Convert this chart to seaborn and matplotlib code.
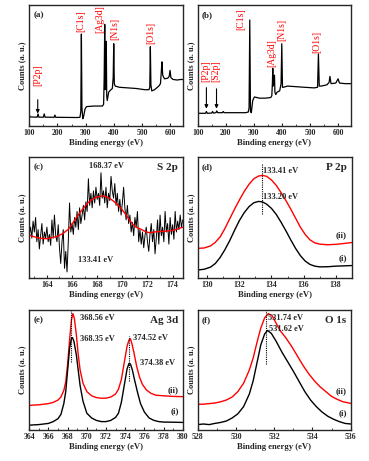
import numpy as np
import pandas as pd
import matplotlib
matplotlib.use("Agg")
import matplotlib.pyplot as plt
from matplotlib.ticker import MultipleLocator
import seaborn as sns

# ---------------- data (intensity in % of panel height) ----------------
# (a) survey spectrum, sample (i)
surv_a_x = [100, 103, 128, 131, 134, 150, 153, 156, 188, 191, 194, 270, 280, 283, 285, 287, 290,
            293, 298, 303, 330, 360, 364, 366, 368, 369.5, 372, 373.5, 375, 377, 382, 390, 395,
            398, 400, 402, 405, 420, 450, 480, 510, 525, 528, 530, 532, 535, 545, 560, 566, 569,
            571, 574, 580, 592, 597, 600, 603, 610, 625, 640, 655]
surv_a_y = [9, 7.5, 7.3, 10, 7.3, 7.3, 10, 7.3, 7.2, 9, 7.2, 7, 7.2, 12, 76, 15, 6,
            8, 14, 16, 16.5, 16.5, 18, 40, 84, 30, 45, 70, 25, 21, 28, 30, 31,
            40, 68, 35, 33, 32, 31.5, 31, 30, 30, 32, 65.5, 34, 29, 30, 33, 35, 45,
            53, 42, 39, 39.5, 41, 46, 40, 38.5, 38, 38.5, 38]
# (b) survey spectrum, sample (ii)
surv_b_x = [100, 128, 131, 134, 150, 153, 156, 165, 168, 171, 188, 191, 194, 270, 280, 283, 285.5,
            288, 291, 296, 302, 320, 340, 360, 364, 366, 367.5, 369, 371, 373.5, 375, 378, 383,
            392, 397, 399.5, 402, 405, 420, 450, 480, 515, 527, 530, 533, 540, 560, 568, 571,
            575, 592, 600, 605, 625, 645]
surv_b_y = [10.5, 10.5, 12, 10.5, 10.7, 12, 10.7, 11, 12.5, 11, 11, 12, 11, 11, 11.5, 15, 87.6,
            12, 11, 21, 24, 23, 23, 23.5, 25, 35, 47.7, 33, 36, 42, 28, 26, 28,
            29, 35, 68, 32, 32, 33, 32.5, 32, 31.5, 32, 59.5, 33, 33, 34, 36, 41,
            35, 35.5, 39, 35.5, 35, 35]

# (c) S 2p raw (0.1 eV steps from 162.6 eV) and fit
s2p_start, s2p_step = 162.6, 0.1
s2p_raw = [36, 42, 33, 47, 38, 50, 30, 40, 24, 35, 45, 28, 38, 33, 42, 30, 36, 27, 48, 33,
           52, 35, 30, 44, 25, 12, 30, 40, 8, 22, 5, 30, 62, 38, 45, 36, 50, 42, 55, 40,
           58, 45, 52, 60, 48, 63, 55, 82, 60, 70, 58, 72, 62, 75, 65, 70, 60, 87, 66, 72,
           62, 75, 58, 70, 64, 84, 72, 66, 78, 60, 70, 55, 65, 52, 62, 75, 58, 48, 60, 45,
           52, 38, 46, 35, 50, 42, 55, 30, 40, 28, 38, 25, 35, 42, 30, 22, 36, 45, 30, 40,
           20, 33, 48, 28, 52, 35, 42, 30, 55, 38, 45, 28, 50, 36, 44, 32, 55, 38, 47, 40,
           52, 42, 48]
s2p_fit_x = [162.6, 163.0, 163.5, 164.0, 164.5, 164.9, 165.3, 165.7, 166.0, 166.3, 166.7, 167.0,
             167.3, 167.6, 168.0, 168.4, 168.7, 169.0, 169.3, 169.5, 169.9, 170.2, 170.5, 170.8,
             171.1, 171.5, 171.9, 172.2, 172.5, 172.8, 173.3, 173.9, 174.3, 174.8]
s2p_fit_y = [35.5, 34, 32.8, 32.5, 33.5, 34.7, 37, 40.2, 44.5, 49.3, 55, 58.9,
             62.5, 65, 67, 67.8, 67.2, 65.8, 63.5, 61.7, 57.5, 53.5, 49, 44.6,
             42, 40.2, 38, 37.4, 38, 38.3, 38.6, 39.1, 40.2, 42]

# (d) P 2p
p2p_x = [129.4, 129.8, 130.2, 130.5, 130.8, 131.1, 131.4, 131.7, 132.0, 132.3, 132.6, 132.9, 133.2,
         133.45, 133.7, 134.0, 134.3, 134.6, 134.9, 135.2, 135.5, 135.8, 136.1, 136.4, 136.7,
         137.0, 137.5, 138.0, 138.5, 139.0]
p2p_ii = [24.5, 24.8, 26.5, 29.5, 34, 41, 49, 57, 64.5, 71.5, 77.5, 82, 84.3,
          84.8, 84, 81, 76.5, 70.5, 64, 57, 49.5, 42, 36, 31.5, 29,
          28, 27.5, 27.8, 28.5, 29.3]
p2p_i = [6.6, 7.2, 9, 12, 17, 23.5, 31, 39.5, 47.5, 54, 59, 62.2, 63.3,
         62.8, 61, 57.5, 52.5, 46, 39, 31.5, 24.5, 18.5, 14, 11.2, 9.8,
         9.2, 9.3, 9.8, 10, 10.3]

# (e) Ag 3d
ag_ii_x = [364.0, 364.5, 365.0, 365.5, 366.0, 366.5, 367.0, 367.3, 367.6, 367.8, 368.0, 368.2, 368.4,
           368.55, 368.7, 368.9, 369.1, 369.3, 369.6, 370.0, 370.5, 371.0, 371.5, 372.0, 372.5,
           373.0, 373.3, 373.6, 373.9, 374.2, 374.4, 374.55, 374.7, 374.9, 375.2, 375.5, 375.8,
           376.2, 376.7, 377.2, 378.0, 379.0, 380.0]
ag_ii_y = [20.5, 20.8, 21, 21.5, 22, 23, 25, 27.5, 33, 40, 55, 75, 92,
           97, 93, 80, 63, 50, 39, 32, 28.5, 27, 26.5, 26.5, 27.5,
           30, 34, 42, 56, 70, 75, 76, 72, 65, 53, 44, 38,
           33.5, 30.5, 29, 28.5, 28, 27.8]
ag_i_x = [364.0, 364.5, 365.0, 365.5, 366.0, 366.5, 367.0, 367.3, 367.6, 367.8, 368.0, 368.2, 368.4,
          368.5, 368.65, 368.9, 369.1, 369.3, 369.6, 370.0, 370.5, 371.0, 371.5, 372.0, 372.5,
          373.0, 373.3, 373.6, 373.9, 374.2, 374.4, 374.55, 374.75, 375.0, 375.3, 375.6, 376.0,
          376.5, 377.0, 377.5, 378.0, 379.0, 380.0]
ag_i_y = [4, 4.3, 4.5, 5, 5.5, 7, 9.5, 13, 22, 32, 50, 68, 76.5,
          77, 74, 63, 50, 37, 24, 14, 10, 8, 7, 7, 8,
          10.5, 14, 23, 37, 51, 55.5, 55, 50, 41, 31, 22, 15,
          10, 8, 7, 6.6, 6.5, 6.3]

# (f) O 1s
o1s_ii_x = [528.0, 528.3, 528.6, 528.9, 529.2, 529.5, 529.8, 530.1, 530.4, 530.7, 530.9, 531.1, 531.3,
            531.5, 531.7, 531.9, 532.1, 532.3, 532.6, 532.9, 533.2, 533.5, 533.8, 534.1, 534.4,
            534.7, 535.0, 535.3, 535.6, 536.0]
o1s_ii_y = [21.4, 21.5, 22, 22.5, 23.5, 25, 27.5, 32, 39, 50, 60, 73, 85,
            93.5, 97, 95, 89, 83, 77, 70, 62, 54, 47, 41, 36,
            32, 28, 25.5, 23.5, 22.2]
o1s_i_x = [528.0, 528.3, 528.6, 528.9, 529.2, 529.5, 529.8, 530.1, 530.4, 530.7, 530.9, 531.1, 531.3,
           531.5, 531.65, 531.85, 532.1, 532.4, 532.7, 533.0, 533.3, 533.6, 533.9, 534.2, 534.5,
           534.8, 535.1, 535.4, 535.7, 536.0]
o1s_i_y = [4.5, 5, 4.5, 5.5, 6.3, 7.5, 10, 13.5, 19.5, 30, 41, 56, 71,
           80, 83, 80.5, 74, 65, 57, 49, 40.5, 32, 25, 19.5, 15,
           11.5, 9, 7, 5.5, 5]

# ---------------- style ----------------
sns.set_style("ticks")
plt.rcParams["font.family"] = ["Liberation Serif", "DejaVu Serif"]
plt.rcParams["font.weight"] = "bold"
plt.rcParams["axes.linewidth"] = 1.0

fig = plt.figure(figsize=(3.69, 4.61), dpi=100)
W, H = 369.0, 461.0


def make_ax(x0, x1, y0, y1):
    return fig.add_axes([x0 / W, 1 - y1 / H, (x1 - x0) / W, (y1 - y0) / H])


def line(ax, x, y, color, lw=0.9):
    df = pd.DataFrame({"x": x, "y": y})
    sns.lineplot(data=df, x="x", y="y", ax=ax, color=color, lw=lw,
                 sort=False, estimator=None)


def style(ax, xlim, major, minor, letter, elem=None):
    ax.set_xlim(*xlim)
    ax.set_ylim(0, 100)
    ax.set_yticks([])
    ax.xaxis.set_major_locator(MultipleLocator(major))
    ax.xaxis.set_minor_locator(MultipleLocator(minor))
    ax.tick_params(axis="x", which="major", direction="in", length=2.5, width=0.8,
                   labelsize=5.6, pad=2.5)
    ax.tick_params(axis="x", which="minor", direction="in", length=1.5, width=0.6)
    for lab in ax.get_xticklabels():
        lab.set_fontweight("bold")
    ax.set_xlabel("Binding energy (eV)", fontsize=6.2, fontweight="bold", labelpad=1)
    ax.set_ylabel("Counts (a. u.)", fontsize=6, fontweight="bold", labelpad=2)
    ax.text(0.025, 0.915, letter, transform=ax.transAxes, fontsize=6.5,
            fontweight="bold", ha="left", va="center")
    if elem:
        ax.text(0.97, 0.915, elem, transform=ax.transAxes, fontsize=8,
                fontweight="bold", ha="right", va="center")


def red_label(ax, x, yb, txt):
    ax.text(x, yb, txt, transform=ax.get_xaxis_transform(), rotation=90,
            color="red", fontsize=7, fontweight="normal", ha="center", va="bottom")


def arrow(ax, x, y0, y1):
    ax.annotate("", xy=(x, y1), xytext=(x, y0), xycoords=ax.get_xaxis_transform(),
                textcoords=ax.get_xaxis_transform(),
                arrowprops=dict(arrowstyle="-|>", color="black", lw=0.8,
                                mutation_scale=5))


def ann(ax, x, y, txt, ha="left"):
    ax.text(x, y, txt, fontsize=6, fontweight="bold", ha=ha, va="center")


def vdots(ax, x, y0, y1):
    ax.plot([x, x], [y0, y1], ls=(0, (1, 1)), color="black", lw=0.8)


# (a)
ax = make_ax(29.3, 183, 5, 126)
line(ax, surv_a_x, surv_a_y, "black", 0.9)
style(ax, (100, 646), 100, 50, "(a)")
red_label(ax, 130, 0.33, "[P2p]")
arrow(ax, 130, 0.24, 0.08)
red_label(ax, 284, 0.78, "[C1s]")
red_label(ax, 350, 0.77, "[Ag3d]")
red_label(ax, 402, 0.71, "[N1s]")
red_label(ax, 530, 0.68, "[O1s]")

# (b)
ax = make_ax(197.7, 350.7, 5, 126)
line(ax, surv_b_x, surv_b_y, "black", 0.9)
style(ax, (100, 645), 100, 50, "(b)")
red_label(ax, 128, 0.36, "[P2p]")
arrow(ax, 131, 0.34, 0.12)
red_label(ax, 166, 0.36, "[S2p]")
arrow(ax, 167, 0.33, 0.12)
red_label(ax, 254, 0.79, "[C1s]")
red_label(ax, 364, 0.49, "[Ag3d]")
red_label(ax, 399, 0.70, "[N1s]")
red_label(ax, 524, 0.60, "[O1s]")

# (c)
ax = make_ax(29.3, 182.7, 157, 278)
s2p_x = [round(s2p_start + i * s2p_step, 1) for i in range(len(s2p_raw))]
line(ax, s2p_x, s2p_raw, "black", 0.7)
line(ax, s2p_fit_x, s2p_fit_y, "red", 1.0)
style(ax, (162.6, 174.8), 2, 1, "(c)", "S 2p")
ann(ax, 168.7, 92.5, "168.37 eV", ha="center")
ann(ax, 167.9, 15, "133.41 eV", ha="center")

# (d)
ax = make_ax(197.7, 351.7, 157, 278)
line(ax, p2p_x, p2p_ii, "red", 1.0)
line(ax, p2p_x, p2p_i, "black", 1.0)
style(ax, (129.4, 139.0), 2, 1, "(d)", "P 2p")
vdots(ax, 133.4, 53, 94)
ann(ax, 133.5, 88.7, "133.41 eV")
ann(ax, 133.5, 67.2, "133.20 eV")
ax.text(0.968, 0.355, "(ii)", transform=ax.transAxes, fontsize=6.5, fontweight="bold",
        ha="right", va="center")
ax.text(0.968, 0.163, "(i)", transform=ax.transAxes, fontsize=6.5, fontweight="bold",
        ha="right", va="center")

# (e)
ax = make_ax(29.3, 182.7, 310, 430)
line(ax, ag_ii_x, ag_ii_y, "red", 1.0)
line(ax, ag_i_x, ag_i_y, "black", 1.0)
style(ax, (364, 380), 2, 1, "(e)", "Ag 3d")
vdots(ax, 368.4, 57, 100)
vdots(ax, 374.35, 41, 78)
ann(ax, 369.3, 93, "368.56 eV")
ann(ax, 369.3, 75.8, "368.35 eV")
ann(ax, 374.85, 76.7, "374.52 eV")
ann(ax, 375.5, 56, "374.38 eV")
ax.text(0.975, 0.33, "(ii)", transform=ax.transAxes, fontsize=6.5, fontweight="bold",
        ha="right", va="center")
ax.text(0.975, 0.158, "(i)", transform=ax.transAxes, fontsize=6.5, fontweight="bold",
        ha="right", va="center")

# (f)
ax = make_ax(197.7, 350.7, 310, 430)
line(ax, o1s_ii_x, o1s_ii_y, "red", 1.0)
line(ax, o1s_i_x, o1s_i_y, "black", 1.0)
style(ax, (528, 536), 2, 1, "(f)", "O 1s")
vdots(ax, 531.57, 55, 100)
ann(ax, 531.65, 93.6, "531.74 eV")
ann(ax, 531.72, 84.2, "531.62 eV")
ax.text(0.975, 0.325, "(ii)", transform=ax.transAxes, fontsize=6.5, fontweight="bold",
        ha="right", va="center")
ax.text(0.975, 0.14, "(i)", transform=ax.transAxes, fontsize=6.5, fontweight="bold",
        ha="right", va="center")

fig.savefig("out.png", dpi=100)
